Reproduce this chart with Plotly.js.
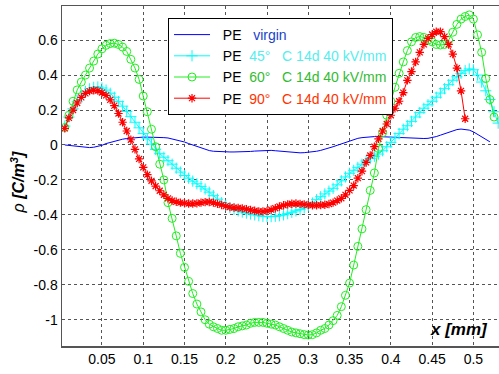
<!DOCTYPE html>
<html><head><meta charset="utf-8">
<script src="https://cdn.plot.ly/plotly-3.0.1.min.js"></script>
<style>html,body{margin:0;padding:0;background:#fff;}#chart{width:499px;height:374px;}</style>
</head><body><div id="chart"></div>
<script>
// sample positions in mm
var X = [0.005,0.010,0.015,0.020,0.025,0.030,0.035,0.040,0.045,0.050,0.055,0.060,0.065,0.070,0.075,0.080,0.085,0.090,0.095,0.100,
0.105,0.110,0.115,0.120,0.125,0.130,0.135,0.140,0.145,0.150,0.155,0.160,0.165,0.170,0.175,0.180,0.185,0.190,0.195,0.200,
0.205,0.210,0.215,0.220,0.225,0.230,0.235,0.240,0.245,0.250,0.255,0.260,0.265,0.270,0.275,0.280,0.285,0.290,0.295,0.300,
0.305,0.310,0.315,0.320,0.325,0.330,0.335,0.340,0.345,0.350,0.355,0.360,0.365,0.370,0.375,0.380,0.385,0.390,0.395,0.400,
0.405,0.410,0.415,0.420,0.425,0.430,0.435,0.440,0.445,0.450,0.455,0.460,0.465,0.470,0.475,0.480,0.485,0.490,0.495,0.500,
0.505,0.510,0.515,0.520,0.525,0.530];

var virgin = [0.0,-0.003,-0.007,-0.010,-0.013,-0.015,-0.015,-0.013,-0.008,-0.002,0.008,0.015,0.022,0.028,0.033,0.037,0.040,0.042,0.044,0.045,
0.045,0.045,0.044,0.043,0.042,0.040,0.035,0.030,0.024,0.017,0.008,0.0,-0.010,-0.018,-0.026,-0.032,-0.036,-0.038,-0.039,-0.040,
-0.040,-0.040,-0.040,-0.040,-0.039,-0.037,-0.035,-0.033,-0.031,-0.030,-0.031,-0.033,-0.035,-0.038,-0.041,-0.043,-0.045,-0.045,-0.044,-0.042,
-0.040,-0.036,-0.031,-0.025,-0.018,-0.010,-0.002,0.006,0.015,0.024,0.032,0.038,0.042,0.045,0.047,0.048,0.048,0.047,0.046,0.044,
0.042,0.040,0.038,0.037,0.036,0.036,0.036,0.037,0.038,0.042,0.048,0.056,0.065,0.074,0.082,0.088,0.091,0.090,0.085,0.075,
0.060,0.045,0.030,0.018];

var pe45 = [0.108,0.160,0.207,0.247,0.281,0.306,0.321,0.330,0.332,0.326,0.314,0.296,0.273,0.248,0.222,0.192,0.162,0.130,0.098,0.065,
0.035,0.005,-0.025,-0.050,-0.070,-0.090,-0.110,-0.133,-0.155,-0.175,-0.190,-0.207,-0.222,-0.237,-0.252,-0.270,-0.290,-0.310,-0.330,-0.345,
-0.358,-0.368,-0.377,-0.384,-0.390,-0.395,-0.400,-0.405,-0.408,-0.410,-0.410,-0.408,-0.405,-0.400,-0.393,-0.385,-0.377,-0.370,-0.360,-0.348,
-0.332,-0.313,-0.296,-0.280,-0.264,-0.248,-0.228,-0.205,-0.183,-0.162,-0.145,-0.128,-0.110,-0.092,-0.078,-0.065,-0.052,-0.033,-0.010,0.015,
0.040,0.065,0.090,0.110,0.135,0.160,0.185,0.210,0.230,0.250,0.273,0.297,0.322,0.345,0.370,0.390,0.410,0.425,0.435,0.430,
0.400,0.360,0.310,0.260,0.190,0.125];

var pe60 = [0.100,0.170,0.250,0.315,0.360,0.400,0.440,0.480,0.520,0.550,0.570,0.580,0.582,0.575,0.560,0.535,0.490,0.440,0.375,0.280,
0.190,0.090,-0.010,-0.110,-0.200,-0.330,-0.420,-0.520,-0.620,-0.700,-0.780,-0.850,-0.910,-0.955,-1.000,-1.025,-1.040,-1.050,-1.060,-1.060,
-1.055,-1.050,-1.040,-1.035,-1.030,-1.020,-1.015,-1.015,-1.015,-1.020,-1.025,-1.030,-1.040,-1.050,-1.060,-1.070,-1.075,-1.080,-1.085,-1.087,
-1.085,-1.075,-1.060,-1.050,-1.030,-1.005,-0.975,-0.925,-0.860,-0.790,-0.687,-0.580,-0.480,-0.370,-0.260,-0.160,-0.020,0.070,0.170,0.250,
0.330,0.410,0.475,0.540,0.590,0.615,0.620,0.615,0.600,0.590,0.575,0.572,0.575,0.600,0.645,0.690,0.720,0.735,0.744,0.720,
0.630,0.530,0.380,0.260,0.160];

var pe90 = [0.095,0.155,0.200,0.240,0.272,0.295,0.308,0.313,0.311,0.300,0.284,0.258,0.225,0.180,0.130,0.080,0.030,-0.025,-0.080,-0.128,
-0.170,-0.205,-0.235,-0.262,-0.285,-0.305,-0.318,-0.325,-0.330,-0.333,-0.335,-0.335,-0.334,-0.330,-0.327,-0.326,-0.330,-0.337,-0.343,-0.350,
-0.355,-0.358,-0.360,-0.363,-0.367,-0.372,-0.376,-0.380,-0.380,-0.377,-0.370,-0.362,-0.352,-0.345,-0.340,-0.336,-0.335,-0.337,-0.340,-0.343,
-0.345,-0.345,-0.344,-0.342,-0.338,-0.330,-0.318,-0.305,-0.285,-0.260,-0.232,-0.190,-0.150,-0.100,-0.060,-0.010,0.035,0.080,0.120,0.170,
0.210,0.250,0.300,0.370,0.420,0.475,0.530,0.575,0.610,0.632,0.648,0.648,0.620,0.575,0.520,0.440,0.310,0.150];

var yTickVals = [-1,-0.8,-0.6,-0.4,-0.2,0,0.2,0.4,0.6];
var yTickText = ['-1','-0.8','-0.6','-0.4','-0.2','0','0.2','0.4','0.6'];
var xTickVals = [0.05,0.1,0.15,0.2,0.25,0.3,0.35,0.4,0.45,0.5];
var xTickText = ['0.05','0.1','0.15','0.2','0.25','0.3','0.35','0.4','0.45','0.5'];

var NB = '\u00a0';
var traces = [
  {x: X.slice(0, virgin.length), y: virgin, mode: 'lines', type: 'scatter',
   line: {color: '#0000ff', width: 1},
   name: NB + NB + 'PE' + NB + NB + NB + '<span style="color:#1a3fcc">virgin</span>'},
  {x: X.slice(0, pe45.length), y: pe45, mode: 'lines+markers', type: 'scatter',
   line: {color: '#00ffff', width: 1},
   marker: {symbol: 'cross-thin-open', size: 8, color: '#00ffff', line: {color: '#00ffff', width: 1}},
   name: NB + NB + 'PE' + NB + NB + '<span style="color:#55eeee">45°' + NB + NB + NB + 'C 14d 40 kV/mm</span>'},
  {x: X.slice(0, pe60.length), y: pe60, mode: 'lines+markers', type: 'scatter',
   line: {color: '#22ee22', width: 1},
   marker: {symbol: 'circle-open', size: 8, color: '#22ee22', line: {color: '#22ee22', width: 1}},
   name: NB + NB + 'PE' + NB + NB + '<span style="color:#33bb33">60°' + NB + NB + NB + 'C 14d 40 kV/mm</span>'},
  {x: X.slice(0, pe90.length), y: pe90, mode: 'lines+markers', type: 'scatter',
   line: {color: '#ff0000', width: 1},
   marker: {symbol: 'asterisk-open', size: 7, color: '#ff0000', line: {color: '#ff0000', width: 1.2}},
   name: NB + NB + 'PE' + NB + NB + '<span style="color:#ff3300">90°' + NB + NB + NB + 'C 14d 40 kV/mm</span>'}
];

var layout = {
  width: 499, height: 374,
  margin: {l: 62, r: 0, t: 6, b: 28, pad: 0},
  paper_bgcolor: '#ffffff', plot_bgcolor: '#ffffff',
  font: {family: '"Liberation Sans", Arial, sans-serif', size: 14, color: '#000'},
  showlegend: true,
  legend: {x: 0.2426, y: 0.9647, xanchor: 'left', yanchor: 'top',
    bgcolor: '#ffffff', bordercolor: '#000', borderwidth: 1,
    font: {family: '"Liberation Sans", Arial, sans-serif', size: 14, color: '#000'},
    tracegroupgap: 0, itemwidth: 36},
  xaxis: {range: [0.0016, 0.531], tickvals: xTickVals, ticktext: xTickText,
    showgrid: true, gridcolor: '#555', griddash: 'dot', gridwidth: 1,
    showline: true, linecolor: '#555', linewidth: 1.5, mirror: true,
    zeroline: false, ticks: '', tickfont: {size: 14}},
  yaxis: {range: [-1.15, 0.795], tickvals: yTickVals, ticktext: yTickText,
    showgrid: true, gridcolor: '#555', griddash: 'dot', gridwidth: 1,
    showline: true, linecolor: '#555', linewidth: 1.5, mirror: false,
    zeroline: false, ticks: '', tickfont: {size: 14}},
  annotations: [
    {text: '<i>ρ</i><b><i> [C/m<sup>3</sup>]</i></b>', xref: 'paper', yref: 'paper',
     x: -0.1007, y: 0.481, xanchor: 'center', yanchor: 'middle', textangle: -90,
     showarrow: false, font: {size: 16, color: '#000'}},
    {text: '<b><i>x [mm]</i></b>', xref: 'x', yref: 'y', x: 0.4827, y: -1.055,
     xanchor: 'center', yanchor: 'middle', showarrow: false, font: {size: 17, color: '#000'}}
  ]
};

Plotly.newPlot('chart', traces, layout, {staticPlot: true, displayModeBar: false});
</script>
</body></html>
